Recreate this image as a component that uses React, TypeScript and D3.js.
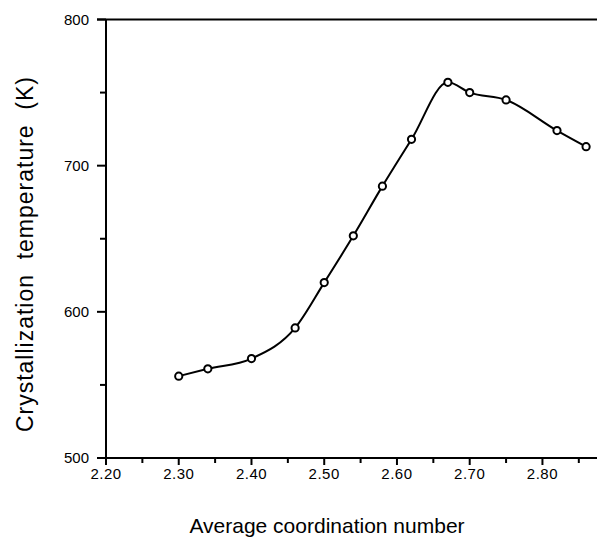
import React from 'react';
import * as d3 from 'd3';

const coordNumbers = [2.30, 2.34, 2.40, 2.46, 2.50, 2.54, 2.58, 2.62, 2.67, 2.70, 2.75, 2.82, 2.86];
const crystTemps = [556, 561, 568, 589, 620, 652, 686, 718, 757, 750, 745, 724, 713];

const xMajorTicks = [2.2, 2.3, 2.4, 2.5, 2.6, 2.7, 2.8];
const xMinorTicks = [2.25, 2.35, 2.45, 2.55, 2.65, 2.75, 2.85];
const yMajorTicks = [500, 600, 700, 800];
const yMinorTicks = [550, 650, 750];

const width = 597;
const height = 538;
const margin = { top: 19.5, right: 0, bottom: 80, left: 106 };

export default function App() {
  const x = d3.scaleLinear()
    .domain([2.2, 2.875])
    .range([margin.left, width - margin.right]);

  const y = d3.scaleLinear()
    .domain([500, 800])
    .range([height - margin.bottom, margin.top]);

  const points = coordNumbers.map((c, i) => [c, crystTemps[i]] as [number, number]);

  const line = d3.line<[number, number]>()
    .x(d => x(d[0]))
    .y(d => y(d[1]))
    .curve(d3.curveMonotoneX);

  const font = 'Liberation Sans, Arial, sans-serif';
  const y0 = y(500);
  const yLabelX = 33;
  const yLabelY = 254.5;

  return (
    <svg width={width} height={height} style={{ position: 'absolute', left: 0, top: 0, background: '#fff' }}>
      {/* frame: top line, left axis, bottom axis */}
      <line x1={x(2.2) - 9} x2={width} y1={y(800)} y2={y(800)} stroke="#000" strokeWidth={2} />
      <line x1={x(2.2)} x2={x(2.2)} y1={y(800)} y2={y0 + 7} stroke="#000" strokeWidth={2} />
      <line x1={x(2.2) - 9} x2={width} y1={y0} y2={y0} stroke="#000" strokeWidth={2} />

      {yMajorTicks.map(t => (
        <g key={'ym' + t}>
          <line x1={x(2.2) - 9} x2={x(2.2)} y1={y(t)} y2={y(t)} stroke="#000" strokeWidth={2} />
          <text x={89} y={y(t)} dy="0.35em" textAnchor="end" fontFamily={font} fontSize={15}>{t}</text>
        </g>
      ))}
      {yMinorTicks.map(t => (
        <line key={'yn' + t} x1={x(2.2) - 6} x2={x(2.2)} y1={y(t)} y2={y(t)} stroke="#000" strokeWidth={2} />
      ))}

      {xMajorTicks.map(t => (
        <g key={'xm' + t}>
          <line x1={x(t)} x2={x(t)} y1={y0} y2={y0 + 7} stroke="#000" strokeWidth={2} />
          <text x={x(t)} y={y0 + 21} textAnchor="middle" fontFamily={font} fontSize={15} letterSpacing={0.5}>{t.toFixed(2)}</text>
        </g>
      ))}
      {xMinorTicks.map(t => (
        <line key={'xn' + t} x1={x(t)} x2={x(t)} y1={y0} y2={y0 + 5} stroke="#000" strokeWidth={2} />
      ))}

      <path d={line(points) || ''} fill="none" stroke="#000" strokeWidth={2} />
      {points.map((p, i) => (
        <circle key={i} cx={x(p[0])} cy={y(p[1])} r={3.6} fill="#fff" stroke="#000" strokeWidth={2} />
      ))}

      <text x={327} y={533} textAnchor="middle" fontFamily={font} fontSize={21}>Average coordination number</text>
      <text
        transform={`translate(${yLabelX},${yLabelY}) rotate(-90)`}
        textAnchor="middle"
        fontFamily={font}
        fontSize={23}
        style={{ whiteSpace: 'pre' }}
        textLength={355}
        lengthAdjust="spacing"
      >{'Crystallization  temperature  (K)'}</text>
    </svg>
  );
}
